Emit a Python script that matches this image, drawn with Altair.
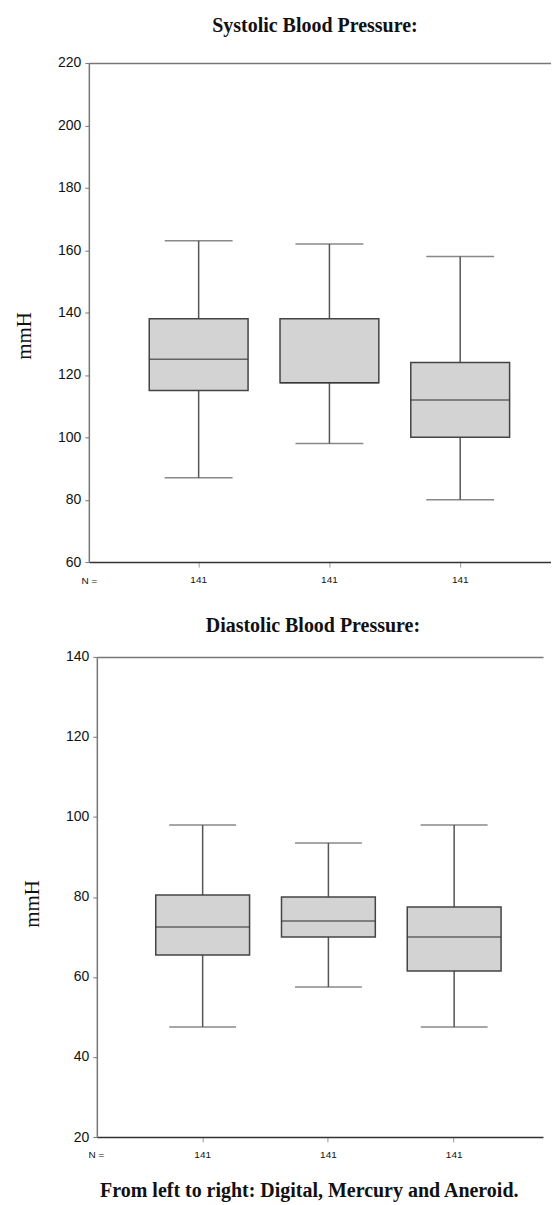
import altair as alt
import pandas as pd

categories = ["Digital", "Mercury", "Aneroid"]
n_values = [141, 141, 141]

sys_low = [87, 98, 80]
sys_q1 = [115, 117.5, 100]
sys_median = [125, 117.5, 112]
sys_q3 = [138, 138, 124]
sys_high = [163, 162, 158]

dia_low = [47.5, 57.5, 47.5]
dia_q1 = [65.5, 70, 61.5]
dia_median = [72.5, 74, 70]
dia_q3 = [80.5, 80, 77.5]
dia_high = [98, 93.5, 98]

sys_ticks = [60, 80, 100, 120, 140, 160, 180, 200, 220]
dia_ticks = [20, 40, 60, 80, 100, 120, 140]

SERIF = "Liberation Serif"
SANS = "Liberation Sans"


def panel(title, low, q1, med, q3, high, domain, ticks, W, H, po, al,
          box_w, cap_w, title_pad, title_y, nx, tdx, toff):
    df = pd.DataFrame(dict(cat=categories, n=n_values, low=low, q1=q1,
                           med=med, q3=q3, high=high))
    base = alt.Chart(df)
    xs = alt.Scale(domain=categories, paddingInner=0, paddingOuter=po, align=al)
    ys = alt.Scale(domain=domain, nice=False, zero=False)
    yaxis = alt.Axis(values=ticks, title="mmH", titleFont=SERIF, titleFontSize=21,
                     titleFontWeight="normal", titleColor="#111",
                     titlePadding=title_pad, titleY=title_y, grid=False,
                     domainColor="#777", domainWidth=1.5, tickColor="#777",
                     tickSize=4, labelFont=SANS, labelFontSize=14,
                     labelColor="#111", labelPadding=4)
    x_none = alt.X("cat:N", scale=xs, sort=categories, axis=None)

    whisk = base.mark_rule(color="#555", strokeWidth=1.5).encode(
        x=alt.X("cat:N", scale=xs, sort=categories,
                axis=alt.Axis(orient="top", labels=False, ticks=False, title=None,
                              domainColor="#777", domainWidth=1.5)),
        y=alt.Y("low:Q", scale=ys, axis=yaxis),
        y2="high:Q")
    cap_lo = base.mark_tick(size=cap_w, thickness=1.5, color="#555").encode(
        x=x_none, y=alt.Y("low:Q", scale=ys, axis=yaxis))
    cap_hi = base.mark_tick(size=cap_w, thickness=1.5, color="#555").encode(
        x=x_none, y=alt.Y("high:Q", scale=ys, axis=yaxis))
    box = base.mark_bar(size=box_w, color="#d3d3d3", stroke="#444",
                        strokeWidth=1.5).encode(
        x=alt.X("cat:N", scale=xs, sort=categories,
                axis=alt.Axis(orient="bottom", labels=False, ticks=True, tickSize=5,
                              tickColor="#999", domainColor="#333", domainWidth=1.5,
                              title="N =", titleAngle=0, titleX=nx, titleY=18,
                              titleAlign="center", titleBaseline="middle",
                              titleFont=SANS, titleFontSize=10,
                              titleFontWeight="normal", titleColor="#111")),
        y=alt.Y("q1:Q", scale=ys, axis=yaxis),
        y2="q3:Q")
    median = base.mark_tick(size=box_w, thickness=1.5, color="#333").encode(
        x=x_none, y=alt.Y("med:Q", scale=ys, axis=yaxis))
    ntext = base.mark_text(font=SANS, fontSize=10, color="#111",
                           baseline="middle").encode(
        x=x_none, y=alt.value(H + 18), text="n:Q")

    return alt.layer(whisk, cap_lo, cap_hi, box, median, ntext).resolve_axis(
        x="independent").properties(
        width=W, height=H,
        title=alt.TitleParams(title, font=SERIF, fontSize=20, fontWeight="bold",
                              color="#111", anchor="middle", dx=tdx, offset=toff))


p1 = panel("Systolic Blood Pressure:", sys_low, sys_q1, sys_median, sys_q3, sys_high,
           [60, 220], sys_ticks, 463, 500, 0.267, 0.636, 99, 68, 23, 273, 0, -5, 20)
p2 = panel("Diastolic Blood Pressure:", dia_low, dia_q1, dia_median, dia_q3, dia_high,
           [20, 140], dia_ticks, 447, 481, 0.274, 0.623, 94, 67, 23, 247, -1, -7, 14)

chart = alt.concat(p1, p2, columns=1, spacing=31, center=True).properties(
    title=alt.TitleParams("From left to right: Digital, Mercury and Aneroid.",
                          orient="bottom", anchor="middle", font=SERIF, fontSize=20,
                          fontWeight="bold", color="#111", offset=21, dx=27),
    padding={"left": 5, "top": 7, "right": 0, "bottom": 5},
    background="white",
).configure_view(stroke=None)

chart.save("out.html", embed_options={"renderer": "svg", "actions": False})
